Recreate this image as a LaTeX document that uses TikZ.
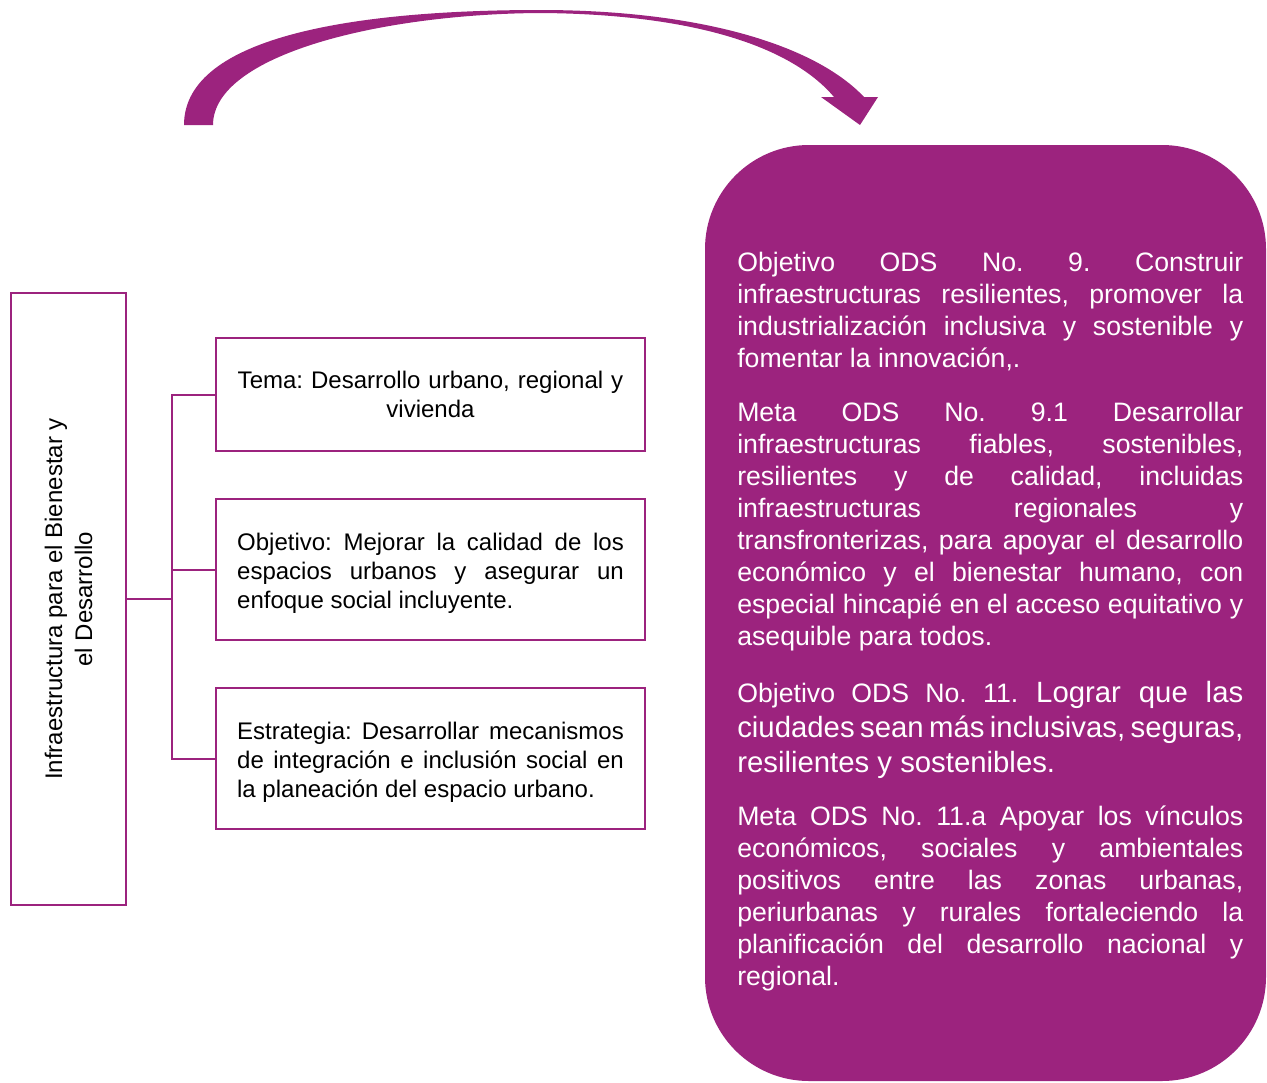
\documentclass[tikz,border=0pt]{standalone}
\usepackage{fontspec}
\setmainfont{Liberation Sans}
\usetikzlibrary{
    calc,
    positioning
}
\definecolor{odspurple}{RGB}{156,35,126}
\newcommand{\nohyph}{\frenchspacing\tolerance=10000\relax\hyphenpenalty=10000\relax}
\tikzset{
    % Box styles
    side box/.style={
        draw=odspurple,
        line width=1.5pt,
        rectangle,
        rotate=90,
        minimum width=459pt,
        minimum height=86.25pt,
        align=center,
        font=\fontsize{18}{22.5}\selectfont\nohyph
    },
    theme box/.style={
        draw=odspurple,
        line width=1.5pt,
        rectangle,
        text width=290pt,
        inner xsep=16pt,
        align=justify,
        font=\fontsize{18}{21.75}\selectfont\nohyph
    },
    goal box/.style={
        fill=odspurple,
        rectangle,
        rounded corners=78pt,
        minimum width=420.75pt,
        minimum height=702pt
    },
    goal text/.style={
        text=white,
        text width=379.5pt,
        inner sep=0pt,
        align=justify,
        font=\fontsize{20}{24}\selectfont\nohyph
    },
    % Line styles
    link/.style={
        draw=odspurple,
        line width=1.5pt
    }
}

\begin{document}
\begin{tikzpicture}[x=0.75pt,y=-0.75pt]
        \useasboundingbox (0,0) rectangle (1267,1082);

        % Curved arrow
        \fill[odspurple] (184,125) .. controls (184,35) and (360,10) .. (540,10)
            .. controls (700,10) and (815,45) .. (864,97) -- (878,97) -- (860,125) -- (821,97) -- (834,97)
            .. controls (790,45) and (690,14) .. (540,13)
            .. controls (380,14) and (213,55) .. (213,125) -- cycle;

        % Left side
        \node[side box] (main) at (68.5,599) {Infraestructura para el Bienestar y\\el Desarrollo};
        \node[theme box, minimum height=84.75pt, align=center] (tema) at (430.5,394.5)
            {Tema: Desarrollo urbano, regional y\\vivienda};
        \node[theme box, minimum height=105.75pt] (objetivo) at (430.5,569.5)
            {\rule{0pt}{19pt}Objetivo: Mejorar la calidad de los\linebreak espacios urbanos y asegurar un\linebreak enfoque social incluyente.};
        \node[theme box, minimum height=105.75pt] (estrategia) at (430.5,758.5)
            {\rule{0pt}{19pt}Estrategia: Desarrollar mecanismos\linebreak de integración e inclusión social en\linebreak la planeación del espacio urbano.};

        % Connectors
        \coordinate (fork) at (172,599);
        \draw[link] (main) -- (fork);
        \draw[link] (tema.west) -| (fork) |- (estrategia.west);
        \draw[link] (objetivo.west) -- (objetivo.west -| fork);

        % Right side
        \node[goal box] (odsbox) at (985.5,613) {};
        \node[goal text, anchor=north west] (ods9) at (737,252)
            {Objetivo ODS No. 9. Construir\linebreak infraestructuras resilientes, promover la\linebreak industrialización inclusiva y sostenible y\linebreak fomentar la innovación,.};
        \node[goal text, below=23pt of ods9.south west, anchor=north west] (meta91)
            {Meta ODS No. 9.1 Desarrollar\linebreak infraestructuras fiables, sostenibles,\linebreak resilientes y de calidad, incluidas\linebreak infraestructuras regionales y\linebreak transfronterizas, para apoyar el desarrollo\linebreak económico y el bienestar humano, con\linebreak especial hincapié en el acceso equitativo y\linebreak asequible para todos.};
        \node[goal text, below=22.25pt of meta91.south west, anchor=north west,
              font=\fontsize{22}{26.25}\selectfont\nohyph] (ods11)
            {{\fontsize{20}{26.25}\selectfont Objetivo ODS No. 11.} Lograr que las\linebreak ciudades sean más inclusivas, seguras,\linebreak resilientes y sostenibles.};
        \node[goal text, below=20pt of ods11.south west, anchor=north west] (meta11a)
            {Meta ODS No. 11.a Apoyar los vínculos\linebreak económicos, sociales y ambientales\linebreak positivos entre las zonas urbanas,\linebreak periurbanas y rurales fortaleciendo la\linebreak planificación del desarrollo nacional y\linebreak regional.};
    \end{tikzpicture}
\end{document}
